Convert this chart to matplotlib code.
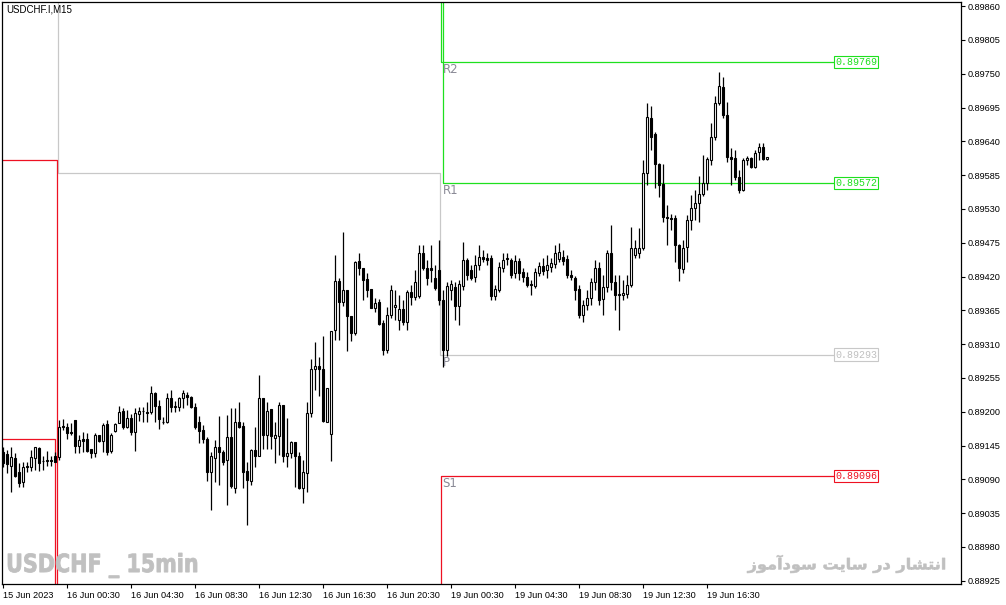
import matplotlib
matplotlib.use('Agg')
import matplotlib.pyplot as plt
import numpy as np
from matplotlib.textpath import TextPath
from matplotlib.patches import PathPatch
from matplotlib.font_manager import FontProperties
from matplotlib.transforms import Affine2D, IdentityTransform

# USDCHF M15 candles, prices in points (1e-5)
opens = [89135, 89131, 89112, 89125, 89102, 89086, 89112, 89110, 89125, 89141,
         89120, 89120, 89121, 89128, 89126, 89177, 89175, 89167, 89187, 89144,
         89156, 89156, 89139, 89133, 89162, 89152, 89180, 89136, 89169, 89182,
         89201, 89175, 89190, 89167, 89196, 89201, 89200, 89200, 89231, 89209,
         89183, 89183, 89222, 89208, 89208, 89222, 89227, 89224, 89208, 89183,
         89170, 89156, 89102, 89125, 89143, 89135, 89122, 89159, 89076, 89183,
         89177, 89104, 89087, 89138, 89128, 89222, 89162, 89205, 89157, 89161,
         89211, 89128, 89133, 89151, 89128, 89076, 89100, 89198, 89270, 89274,
         89270, 89183, 89164, 89333, 89413, 89379, 89398, 89356, 89328, 89445,
         89434, 89416, 89400, 89369, 89379, 89344, 89301, 89357, 89370, 89349,
         89367, 89346, 89395, 89387, 89388, 89458, 89434, 89434, 89418, 89431,
         89382, 89300, 89398, 89403, 89372, 89405, 89447, 89431, 89419, 89439,
         89452, 89450, 89450, 89388, 89398, 89434, 89450, 89447, 89426, 89445,
         89427, 89419, 89408, 89405, 89426, 89437, 89431, 89436, 89440, 89449,
         89452, 89449, 89423, 89418, 89400, 89357, 89374, 89385, 89411, 89434,
         89384, 89403, 89458, 89411, 89390, 89390, 89392, 89406, 89455, 89458,
         89467, 89589, 89678, 89652, 89603, 89571, 89517, 89515, 89515, 89471,
         89432, 89468, 89512, 89532, 89540, 89554, 89572, 89610, 89647, 89702,
         89728, 89683, 89615, 89613, 89582, 89561, 89610, 89613, 89598, 89623,
         89631, 89611]
highs = [89143, 89138, 89143, 89133, 89117, 89118, 89118, 89138, 89143, 89143,
         89128, 89136, 89128, 89135, 89187, 89188, 89182, 89182, 89187, 89162,
         89167, 89165, 89139, 89165, 89162, 89182, 89187, 89165, 89182, 89209,
         89206, 89203, 89196, 89206, 89208, 89208, 89216, 89242, 89232, 89219,
         89192, 89231, 89235, 89218, 89224, 89235, 89232, 89226, 89214, 89193,
         89179, 89159, 89135, 89154, 89193, 89138, 89195, 89206, 89206, 89216,
         89183, 89118, 89139, 89175, 89260, 89222, 89216, 89205, 89183, 89216,
         89211, 89190, 89152, 89151, 89135, 89122, 89216, 89286, 89314, 89289,
         89323, 89239, 89331, 89455, 89418, 89493, 89398, 89356, 89445, 89458,
         89434, 89426, 89400, 89385, 89384, 89349, 89370, 89406, 89398, 89390,
         89382, 89398, 89406, 89431, 89471, 89471, 89447, 89471, 89439, 89480,
         89398, 89411, 89414, 89411, 89414, 89476, 89450, 89439, 89455, 89471,
         89463, 89458, 89455, 89406, 89444, 89458, 89458, 89450, 89455, 89450,
         89434, 89427, 89414, 89434, 89444, 89450, 89455, 89450, 89471, 89475,
         89463, 89455, 89431, 89421, 89406, 89382, 89398, 89418, 89447, 89444,
         89423, 89463, 89504, 89423, 89423, 89414, 89423, 89501, 89480, 89499,
         89610, 89702, 89698, 89655, 89605, 89603, 89536, 89522, 89520, 89473,
         89480, 89520, 89553, 89561, 89584, 89618, 89615, 89670, 89714, 89753,
         89745, 89704, 89629, 89626, 89593, 89613, 89616, 89615, 89626, 89637,
         89637, 89615]
lows = [89110, 89100, 89070, 89094, 89078, 89078, 89102, 89104, 89105, 89104,
        89105, 89112, 89112, 89118, 89122, 89170, 89156, 89162, 89133, 89133,
        89135, 89135, 89125, 89126, 89151, 89135, 89130, 89133, 89167, 89182,
        89172, 89174, 89162, 89136, 89185, 89183, 89183, 89196, 89183, 89172,
        89180, 89182, 89200, 89200, 89201, 89206, 89211, 89206, 89172, 89149,
        89149, 89087, 89040, 89086, 89081, 89113, 89048, 89076, 89068, 89174,
        89076, 89016, 89081, 89110, 89128, 89139, 89139, 89139, 89117, 89130,
        89118, 89110, 89125, 89078, 89074, 89052, 89070, 89192, 89235, 89226,
        89183, 89183, 89120, 89317, 89317, 89372, 89299, 89315, 89325, 89423,
        89382, 89387, 89369, 89362, 89341, 89292, 89296, 89353, 89349, 89333,
        89341, 89333, 89374, 89382, 89385, 89431, 89406, 89411, 89398, 89374,
        89273, 89290, 89382, 89349, 89341, 89398, 89414, 89414, 89411, 89431,
        89444, 89439, 89382, 89382, 89395, 89427, 89439, 89418, 89418, 89414,
        89411, 89403, 89390, 89401, 89421, 89423, 89418, 89427, 89434, 89444,
        89439, 89418, 89414, 89382, 89353, 89346, 89366, 89374, 89398, 89374,
        89357, 89395, 89398, 89366, 89333, 89382, 89385, 89403, 89450, 89450,
        89463, 89569, 89626, 89564, 89549, 89509, 89471, 89496, 89444, 89413,
        89426, 89444, 89496, 89512, 89509, 89551, 89561, 89601, 89642, 89699,
        89678, 89606, 89569, 89577, 89556, 89559, 89601, 89597, 89597, 89610,
        89610, 89610]
closes = [89117, 89115, 89126, 89096, 89084, 89110, 89110, 89126, 89143, 89117,
          89120, 89121, 89120, 89118, 89175, 89176, 89165, 89166, 89144, 89154,
          89152, 89136, 89133, 89162, 89152, 89179, 89135, 89162, 89180, 89200,
          89175, 89190, 89167, 89198, 89201, 89202, 89198, 89231, 89209, 89188,
          89184, 89222, 89208, 89209, 89222, 89231, 89224, 89208, 89175, 89169,
          89156, 89102, 89128, 89143, 89135, 89118, 89159, 89079, 89183, 89175,
          89102, 89089, 89138, 89128, 89222, 89162, 89201, 89161, 89162, 89211,
          89128, 89133, 89151, 89128, 89076, 89102, 89198, 89270, 89274, 89270,
          89185, 89239, 89331, 89413, 89379, 89398, 89356, 89328, 89444, 89434,
          89414, 89398, 89369, 89377, 89343, 89301, 89357, 89398, 89374, 89367,
          89346, 89395, 89387, 89411, 89458, 89434, 89418, 89431, 89401, 89382,
          89300, 89405, 89408, 89372, 89408, 89447, 89423, 89418, 89439, 89452,
          89449, 89447, 89388, 89400, 89436, 89447, 89449, 89423, 89445, 89426,
          89419, 89406, 89406, 89427, 89437, 89429, 89439, 89442, 89458, 89460,
          89445, 89423, 89419, 89398, 89357, 89374, 89385, 89411, 89434, 89382,
          89403, 89458, 89411, 89390, 89391, 89393, 89406, 89467, 89467, 89467,
          89589, 89680, 89647, 89603, 89569, 89517, 89515, 89514, 89471, 89434,
          89467, 89512, 89532, 89540, 89554, 89572, 89611, 89647, 89702, 89730,
          89683, 89615, 89611, 89582, 89561, 89610, 89613, 89598, 89621, 89631,
          89611, 89615]

# daily pivot levels: 15 Jun, 16 Jun, 19 Jun (values off the chart are above/below)
day_start = [-1.0, 13.5, 109.5]
day_end = [13.5, 109.5, 207.4]
level_r2 = [0.90300, 0.90150, 0.89769]
level_r1 = [0.90100, 0.89990, 0.89572]
level_p = [0.89990, 0.89589, 0.89293]
level_s1 = [0.89610, 0.88800, 0.89096]
level_s2 = [0.89156, 0.88600, 0.88700]

xtick_labels = ['15 Jun 2023', '16 Jun 00:30', '16 Jun 04:30', '16 Jun 08:30',
                '16 Jun 12:30', '16 Jun 16:30', '16 Jun 20:30', '19 Jun 00:30',
                '19 Jun 04:30', '19 Jun 08:30', '19 Jun 12:30', '19 Jun 16:30']

GREEN = '#1ee01e'
SILVER = '#c8c8c8'
RED = '#ee1122'

o = np.array(opens) / 1e5
h = np.array(highs) / 1e5
l = np.array(lows) / 1e5
c = np.array(closes) / 1e5
x = np.arange(len(o))

fig = plt.figure(figsize=(10.06, 6.05), dpi=100)
ax = fig.add_axes([2 / 1006, 21 / 605, 959 / 1006, 582 / 605])

# pivot lines as steps between days
def draw_level(vals, color, shifts):
    xs, ys = [], []
    for k, v in enumerate(vals):
        xs += [day_start[k] + shifts[k], day_end[k] + (shifts[k + 1] if k + 1 < len(vals) else 0)]
        ys += [v, v]
    ax.plot(xs, ys, color=color, lw=0.9, zorder=1)

draw_level(level_r2, GREEN, [0, 0, 0])
draw_level(level_r1, GREEN, [0, 0, 0.3])
draw_level(level_p, SILVER, [0, 0.2, -0.4])
draw_level(level_s1, RED, [0, -0.2, 0])
draw_level(level_s2, RED, [0, -0.5, 0])

# candles
up = c >= o
ax.vlines(x, l, h, color='black', lw=0.9, zorder=2)
ax.bar(x, np.abs(c - o), bottom=np.minimum(o, c), width=0.5,
       color=np.where(up, 'white', 'black'), edgecolor='black', lw=0.8, zorder=3)

# level names and price boxes
for name, vals, col in [('R2', level_r2, GREEN), ('R1', level_r1, GREEN),
                        ('P', level_p, SILVER), ('S1', level_s1, RED)]:
    v = vals[2]
    ax.text(109.8, v - 0.00002, name, color='#8a8a96', fontsize=8.5,
            ha='left', va='top', zorder=4)
    ax.text(207.9, v, f'{v:.5f}', color=col if col != SILVER else '#c0c0c0',
            fontsize=7.2, family='Liberation Mono', ha='left', va='center',
            bbox=dict(boxstyle='square,pad=0.12', fc='white', ec=col, lw=0.8),
            zorder=4)

ax.set_xlim(-0.33, 239.4)
ax.set_ylim(0.889198, 0.898667)

yt = np.round(np.arange(0.88925, 0.89861, 0.00055), 5)
ax.set_yticks(yt)
ax.set_yticklabels([f'{v:.5f}' for v in yt])
ax.yaxis.tick_right()
ax.set_xticks(np.arange(0, 16 * len(xtick_labels), 16))
ax.set_xticklabels(xtick_labels)
for lab in ax.get_xticklabels():
    lab.set_horizontalalignment('left')
ax.tick_params(axis='both', labelsize=6.6, length=3, width=0.8, pad=2)
for lab in ax.get_xticklabels() + ax.get_yticklabels():
    lab.set_family('Liberation Sans')
for s in ax.spines.values():
    s.set_linewidth(0.9)

fig.text(6 / 1006, 1 - 4 / 605, 'USDCHF.I,M15', fontsize=7, family='Liberation Sans',
         ha='left', va='top')

# watermarks, fitted to their boxes in pixel space
def put_path(text, box, prop, stroke):
    tp = TextPath((0, 0), text, size=40, prop=prop)
    ext = tp.get_extents()
    x0, y0, x1, y1 = box
    tr = Affine2D().translate(-ext.x0, -ext.y0).scale((x1 - x0) / ext.width,
                                                     (y1 - y0) / ext.height).translate(x0, y0)
    fig.add_artist(PathPatch(tr.transform_path(tp), fc='#c0c0c0', ec='#c0c0c0', lw=stroke,
                             transform=IdentityTransform(), zorder=5))

def shape_persian(s):
    forms = {'ا': ('\uFE8D', '\uFE8E', None, None), 'آ': ('\uFE81', '\uFE82', None, None),
             'ن': ('\uFEE5', '\uFEE6', '\uFEE7', '\uFEE8'), 'ت': ('\uFE95', '\uFE96', '\uFE97', '\uFE98'),
             'ش': ('\uFEB5', '\uFEB6', '\uFEB7', '\uFEB8'), 'ر': ('\uFEAD', '\uFEAE', None, None),
             'د': ('\uFEA9', '\uFEAA', None, None), 'س': ('\uFEB1', '\uFEB2', '\uFEB3', '\uFEB4'),
             'ی': ('\uFBFC', '\uFBFD', '\uFBFE', '\uFBFF'), 'و': ('\uFEED', '\uFEEE', None, None),
             'م': ('\uFEE1', '\uFEE2', '\uFEE3', '\uFEE4'), 'ز': ('\uFEAF', '\uFEB0', None, None)}
    out = []
    for j, ch in enumerate(s):
        if ch not in forms:
            out.append(ch)
            continue
        prev = j > 0 and s[j - 1] in forms and forms[s[j - 1]][2] is not None
        nxt = j + 1 < len(s) and s[j + 1] in forms and forms[ch][2] is not None
        f = forms[ch]
        out.append(f[3] if prev and nxt else f[1] if prev else f[2] if nxt else f[0])
    return ''.join(out)[::-1]

put_path('USDCHF _ 15min', (8, 27, 197, 52),
         FontProperties(family='DejaVu Sans', weight='bold'), 0.6)
put_path(shape_persian('انتشار در سایت سودآموز'), (747, 32, 945, 50),
         FontProperties(family='DejaVu Sans', weight='bold'), 0.4)

fig.savefig('out.png', dpi=100)
